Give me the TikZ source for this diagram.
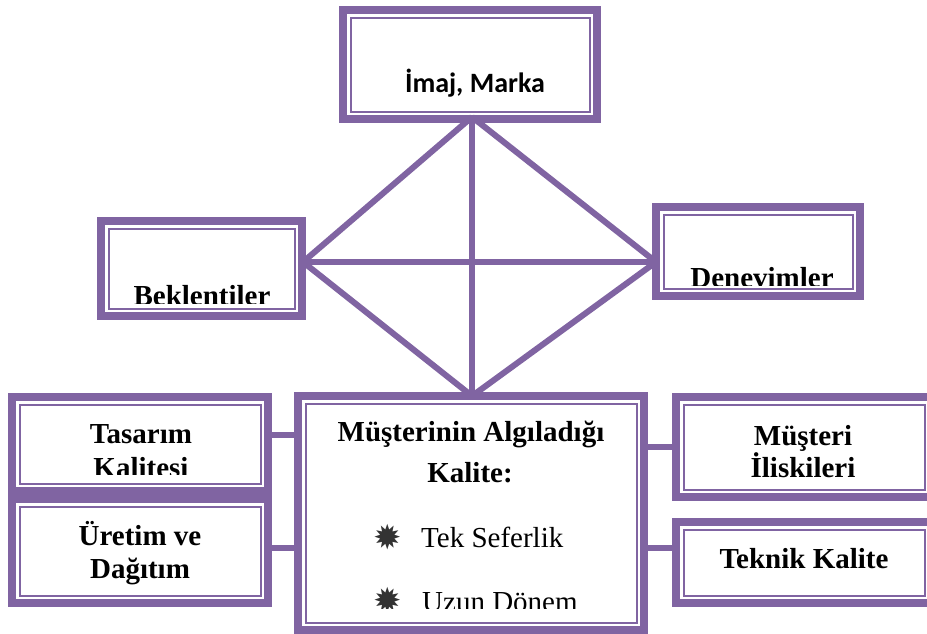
\documentclass[tikz,border=0pt]{standalone}
\usepackage{fontspec}
\setmainfont{Liberation Serif}
\newfontfamily\calibrifont{Carlito}
\newfontfamily\symfont{DejaVu Sans}
\usetikzlibrary{calc}
\definecolor{lilac}{HTML}{8064A2}

\begin{document}
\begin{tikzpicture}[x=1pt,y=-1pt,
  frame/.style={draw=lilac, line width=8pt, fill=white, inner sep=0pt, outer sep=4pt,
    path picture={\draw[lilac, line width=2pt]
      ([shift={(7.5pt,7.5pt)}]path picture bounding box.south west) rectangle
      ([shift={(-7.5pt,-7.5pt)}]path picture bounding box.north east);}},
  link/.style={draw=lilac, line width=6pt},
  stub/.style={draw=lilac, line width=6.5pt},
  lbl/.style={font=\fontsize{29}{33}\selectfont\bfseries, inner sep=0pt, anchor=base},
  item/.style={font=\fontsize{29}{33}\selectfont, inner sep=0pt, anchor=base west},
  bul/.style={font=\symfont\fontsize{34}{34}\selectfont, inner sep=0pt, text=black!80}
]
\clip (0,0) rectangle (927,633);

% boxes with a heavy outer band and a thin inner rule
\node[frame, minimum width=254pt, minimum height=109pt] (imaj) at (470,64.5) {};
\node[frame, minimum width=201pt, minimum height=95pt]  (bek)  at (201.5,268.5) {};
\node[frame, minimum width=204pt, minimum height=89pt]  (den)  at (758,251.5) {};
\node[frame, minimum width=256pt, minimum height=94pt]  (tas)  at (140,444) {};
\node[frame, minimum width=256pt, minimum height=104pt] (ure)  at (140,551) {};
\node[frame, minimum width=346pt, minimum height=234pt] (mal)  at (471,513) {};
\node[frame, minimum width=256pt, minimum height=100pt] (mus)  at (804,447) {};
\node[frame, minimum width=256pt, minimum height=81pt]  (tek)  at (804,562.5) {};

% corners of the diamond
\coordinate (jT) at ([xshift=2pt,yshift=6pt]imaj.south);
\coordinate (jL) at ([xshift=-3pt,yshift=6.5pt]bek.east);
\coordinate (jR) at ([xshift=4pt,yshift=-10.5pt]den.west);
\coordinate (jB) at ([xshift=1pt,yshift=-4pt]mal.north);

\draw[link] (jT) -- (jL);
\draw[link] (jT) -- (jR);
\draw[link] (jT) -- (jB);
\draw[link] (jL) -- (jR);
\draw[link] (jL) -- (jB);
\draw[link] (jR) -- (jB);

% side connectors
\draw[stub] ([yshift=9pt]tas.east) -- ([yshift=9pt]tas.east -| mal.west);
\draw[stub] ([yshift=3pt]ure.east) -- ([yshift=3pt]ure.east -| mal.west);
\draw[stub] (mus.west) -- (mus.west -| mal.east);
\draw[stub] ([yshift=14.5pt]tek.west) -- ([yshift=14.5pt]tek.west -| mal.east);

% labels
\node[lbl, font=\calibrifont\fontsize{28}{32}\selectfont\bfseries] (timaj) at (475,92) {İmaj, Marka};

\begin{scope}
  \clip (90,210) rectangle (320,303);
  \node[lbl] (tbek) at (202,305) {Beklentiler};
\end{scope}
\begin{scope}
  \clip (640,195) rectangle (880,285);
  \node[lbl] (tden) at (762,287) {Denevimler};
\end{scope}

\node[lbl] (ttas1) at (141,443) {Tasarım};
\begin{scope}
  \clip (0,450) rectangle (290,474);
  \node[lbl] (ttas2) at (141,477) {Kalitesi};
\end{scope}

\node[lbl] (ture1) at (140,545) {Üretim ve};
\node[lbl] (ture2) at (140,578) {Dağıtım};

\node[lbl] (tmal1) at (471,441) {Müşterinin Algıladığı};
\node[lbl] (tmal2) at (470,482) {Kalite:};
\node[bul] (b1) at (387.5,537) {✹};
\node[item] (ti1) at (421,547) {Tek Seferlik};
\begin{scope}
  \clip (290,560) rectangle (650,608);
  \node[bul] (b2) at (387.5,600) {✹};
  \node[item] (ti2) at (422,611) {Uzun Dönem};
\end{scope}

\node[lbl] (tmus1) at (803,445) {Müşteri};
\node[lbl] (tmus2) at (803,477) {İliskileri};
\node[lbl] (ttek) at (804,568) {Teknik Kalite};
\end{tikzpicture}
\end{document}
